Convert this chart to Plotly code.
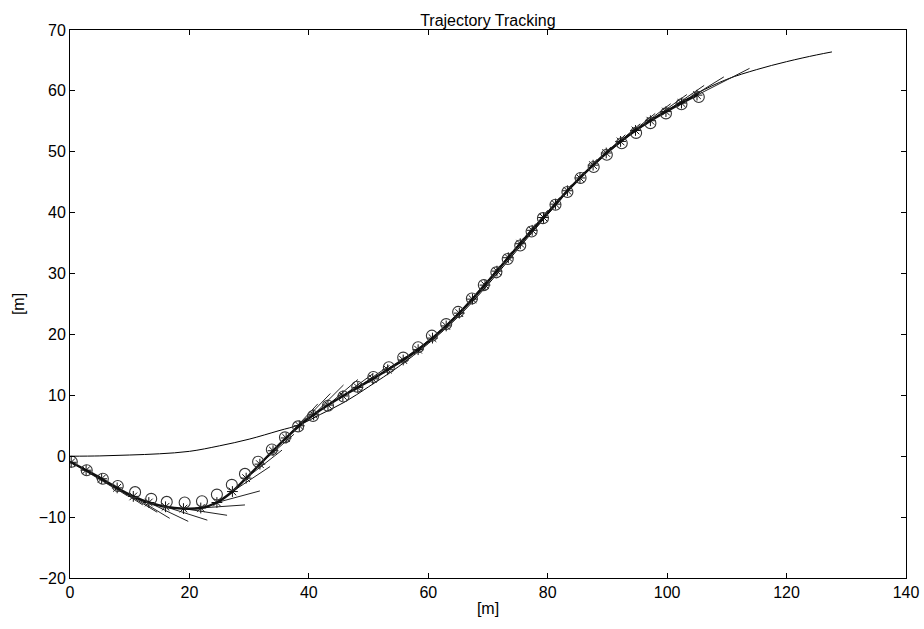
import plotly.graph_objects as go

# Reference trajectory (thin line)
ref_x = [0, 5, 10, 15, 20, 25, 30, 35, 38.5, 42, 46, 50, 55, 60, 65, 70, 75, 80, 85, 90, 95, 100, 105, 110, 115, 120, 125, 127.6]
ref_y = [0, 0.05, 0.2, 0.4, 0.8, 1.7, 2.8, 4.2, 5.2, 6.9, 8.9, 11.4, 14.7, 18.5, 22.9, 28.2, 34.0, 39.7, 45.2, 49.8, 53.6, 56.8, 59.6, 61.9, 63.5, 64.8, 65.9, 66.4]

# Actual vehicle positions (asterisks, thick line)
act_x = [0.2, 2.7, 5.3, 7.9, 10.6, 13.2, 16.0, 19.0, 21.9, 24.6, 27.2, 29.5, 31.8, 34.0, 36.2,
         38.4, 40.8, 43.2, 45.7, 48.2, 50.7, 53.2, 55.8, 58.3, 60.7, 63.0, 65.2, 67.4, 69.5, 71.5,
         73.4, 75.4, 77.4, 79.3, 81.3, 83.3, 85.4, 87.6, 89.8, 92.2, 94.7, 97.2, 99.8, 102.4, 105.0]
act_y = [-1.0, -2.3, -3.7, -5.2, -6.6, -7.6, -8.3, -8.6, -8.5, -7.6, -5.8, -3.6, -1.3, 0.9, 3.0,
         5.0, 6.8, 8.4, 9.9, 11.3, 12.7, 14.2, 15.8, 17.5, 19.4, 21.4, 23.5, 25.8, 28.1, 30.4,
         32.6, 34.9, 37.1, 39.2, 41.4, 43.6, 45.7, 47.8, 49.8, 51.7, 53.5, 55.1, 56.6, 58.0, 59.3]

# Reference points (circles)
circ_x = [0.3, 2.8, 5.5, 8.0, 10.9, 13.6, 16.2, 19.2, 22.1, 24.6, 27.1, 29.3, 31.5, 33.8, 36.0,
          38.2, 40.7, 43.2, 45.8, 48.1, 50.8, 53.4, 55.8, 58.3, 60.6, 63.0, 65.0, 67.3, 69.3, 71.4,
          73.3, 75.4, 77.3, 79.2, 81.3, 83.3, 85.5, 87.7, 89.9, 92.4, 94.8, 97.2, 99.8, 102.4, 105.3]
circ_y = [-0.9, -2.3, -3.7, -4.9, -5.9, -7.0, -7.5, -7.6, -7.4, -6.3, -4.7, -2.9, -0.9, 1.1, 3.1,
          4.9, 6.6, 8.3, 9.8, 11.4, 13.0, 14.6, 16.2, 17.9, 19.8, 21.7, 23.7, 25.9, 28.1, 30.2,
          32.4, 34.6, 36.9, 39.1, 41.3, 43.4, 45.7, 47.5, 49.5, 51.4, 53.1, 54.7, 56.3, 57.8, 59.0]

# Predicted trajectory end points (one per vehicle position)
pred_end_x = [7.0, 9.6, 12.2, 14.6, 16.7, 19.8, 23.0, 26.3, 29.3, 31.8, 33.5, 35.5, 37.5, 39.5, 41.5,
              43.6, 45.8, 48.2, 50.8, 53.5, 56.2, 58.7, 61.2, 63.6, 65.8, 68.0, 70.0, 72.0, 74.0, 76.0,
              78.0, 80.0, 82.0, 84.0, 86.1, 88.3, 90.6, 93.0, 95.5, 98.0, 100.6, 103.3, 106.2, 109.5, 113.8]
pred_end_y = [-5.0, -6.5, -8.0, -9.2, -10.2, -10.7, -10.5, -9.7, -8.0, -5.7, -1.7, 1.0, 3.6, 6.3, 8.6,
              10.3, 11.7, 12.6, 13.6, 14.9, 16.3, 18.0, 19.9, 22.0, 24.2, 26.6, 29.0, 31.3, 33.6, 35.9,
              38.2, 40.4, 42.5, 44.6, 46.7, 48.8, 50.8, 52.8, 54.6, 56.3, 57.9, 59.4, 60.9, 62.3, 63.7]

x_ticks = [0, 20, 40, 60, 80, 100, 120, 140]
y_ticks = [-20, -10, 0, 10, 20, 30, 40, 50, 60, 70]

pred_x, pred_y = [], []
for x0, y0, x1, y1 in zip(act_x, act_y, pred_end_x, pred_end_y):
    pred_x += [x0, x1, None]
    pred_y += [y0, y1, None]

FONT = "Liberation Sans, Arial"

fig = go.Figure()
fig.add_trace(go.Scatter(x=ref_x, y=ref_y, mode="lines",
                         line=dict(color="black", width=1, shape="spline"), showlegend=False))
fig.add_trace(go.Scatter(x=pred_x, y=pred_y, mode="lines",
                         line=dict(color="#222", width=1), showlegend=False))
fig.add_trace(go.Scatter(x=act_x, y=act_y, mode="lines+markers",
                         line=dict(color="#111", width=2.4, shape="spline"),
                         marker=dict(symbol="asterisk-open", size=9, color="#111",
                                     line=dict(width=1, color="#111")),
                         showlegend=False))
fig.add_trace(go.Scatter(x=circ_x, y=circ_y, mode="markers",
                         marker=dict(symbol="circle-open", size=11, color="#333",
                                     line=dict(width=1.1, color="#333")),
                         showlegend=False))

axis_common = dict(showline=True, linecolor="black", linewidth=1, mirror="ticks",
                   ticks="inside", ticklen=5, tickcolor="black", showgrid=False,
                   zeroline=False, automargin=False,
                   tickfont=dict(family=FONT, size=16, color="black"))

fig.update_xaxes(range=[0, 140], tickvals=x_ticks,
                 title=dict(text="[m]", font=dict(family=FONT, size=16, color="black"), standoff=2),
                 **axis_common)
fig.update_yaxes(range=[-20, 70], tickvals=y_ticks,
                 title=dict(text="[m]", font=dict(family=FONT, size=16, color="black"), standoff=10),
                 **axis_common)

fig.update_layout(
    width=924, height=629,
    margin=dict(l=70, r=18, t=30, b=51),
    paper_bgcolor="white", plot_bgcolor="white",
    title=dict(text="Trajectory Tracking", x=0.528, xanchor="center", y=0.968, yanchor="middle",
               font=dict(family=FONT, size=16, color="black")),
)

fig.write_html("out.html", config={"displayModeBar": False},
               post_script="document.body.style.margin='0';document.body.style.overflow='hidden';")
